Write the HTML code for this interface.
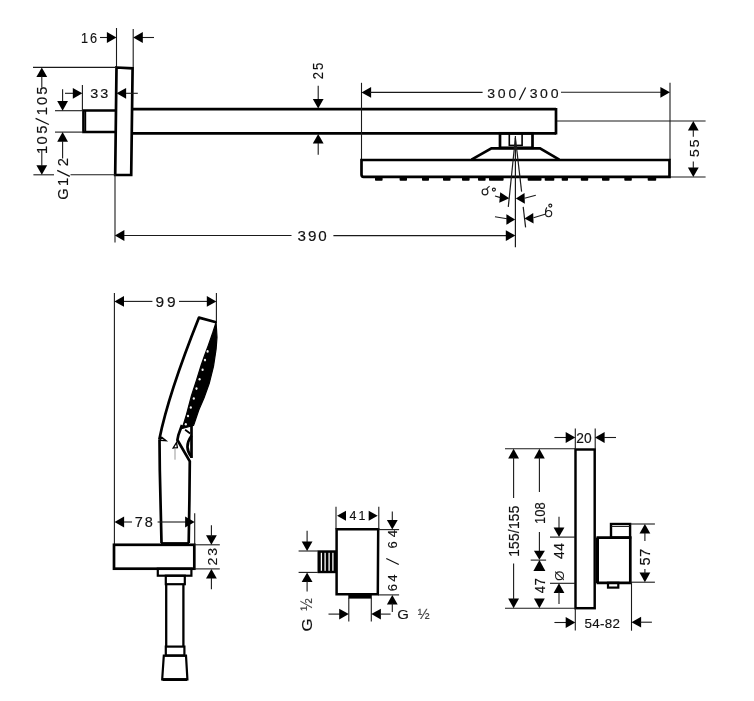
<!DOCTYPE html>
<html><head><meta charset="utf-8"><style>
html,body{margin:0;padding:0;background:#fff;}
svg{display:block;will-change:transform;}
</style></head><body>
<svg width="754" height="701" viewBox="0 0 754 701">
<rect width="754" height="701" fill="#fff"/>
<line x1="116.5" y1="28" x2="116.5" y2="67" stroke="#1a1a1a" stroke-width="1.1"/>
<line x1="133.2" y1="29" x2="133.2" y2="67" stroke="#1a1a1a" stroke-width="1.1"/>
<line x1="100" y1="37.5" x2="108" y2="37.5" stroke="#1a1a1a" stroke-width="1.1"/>
<polygon points="116.50,37.50 106.90,42.90 106.90,32.10" fill="#000"/>
<line x1="142" y1="37.5" x2="154" y2="37.5" stroke="#1a1a1a" stroke-width="1.1"/>
<polygon points="133.20,37.50 142.80,32.10 142.80,42.90" fill="#000"/>
<text transform="translate(80.90 42.80) scale(0.919 1)" x="0" y="0" font-family="Liberation Sans" font-size="13.80" fill="#111" stroke="#111" stroke-width="0.15" textLength="17.53" lengthAdjust="spacing">16</text>
<polygon points="116.5,67.5 132.6,68.3 131.2,175 115.2,175" fill="none" stroke="#000" stroke-width="2.7" stroke-linejoin="miter"/>
<line x1="33" y1="67.4" x2="116.5" y2="67.4" stroke="#1a1a1a" stroke-width="1.1"/>
<line x1="33.4" y1="174.8" x2="54" y2="174.8" stroke="#1a1a1a" stroke-width="1.1"/>
<line x1="70.5" y1="174.8" x2="115.5" y2="174.8" stroke="#1a1a1a" stroke-width="1.1"/>
<polygon points="41.80,67.40 47.20,77.00 36.40,77.00" fill="#000"/>
<line x1="41.8" y1="76" x2="41.8" y2="87.4" stroke="#1a1a1a" stroke-width="1.1"/>
<polygon points="41.80,174.80 36.40,165.20 47.20,165.20" fill="#000"/>
<line x1="41.8" y1="150" x2="41.8" y2="166" stroke="#1a1a1a" stroke-width="1.1"/>
<text transform="translate(47.00 150.00) rotate(-90) scale(1.05 1)" x="0" y="0" text-anchor="middle" font-family="Liberation Sans" font-size="14.0" fill="#111" stroke="#111" stroke-width="0.15">1</text>
<text transform="translate(47.00 140.50) rotate(-90) scale(1.05 1)" x="0" y="0" text-anchor="middle" font-family="Liberation Sans" font-size="14.0" fill="#111" stroke="#111" stroke-width="0.15">0</text>
<text transform="translate(47.00 129.70) rotate(-90) scale(1.05 1)" x="0" y="0" text-anchor="middle" font-family="Liberation Sans" font-size="14.0" fill="#111" stroke="#111" stroke-width="0.15">5</text>
<text transform="translate(47.00 111.20) rotate(-90) scale(1.05 1)" x="0" y="0" text-anchor="middle" font-family="Liberation Sans" font-size="14.0" fill="#111" stroke="#111" stroke-width="0.15">1</text>
<text transform="translate(47.00 101.00) rotate(-90) scale(1.05 1)" x="0" y="0" text-anchor="middle" font-family="Liberation Sans" font-size="14.0" fill="#111" stroke="#111" stroke-width="0.15">0</text>
<text transform="translate(47.00 90.70) rotate(-90) scale(1.05 1)" x="0" y="0" text-anchor="middle" font-family="Liberation Sans" font-size="14.0" fill="#111" stroke="#111" stroke-width="0.15">5</text>
<line x1="35.6" y1="118.4" x2="48.9" y2="124.5" stroke="#111" stroke-width="1.25"/>
<polyline points="116,110.5 83.5,110.5 83.5,132 116,132" fill="none" stroke="#000" stroke-width="2.7" stroke-linejoin="miter"/>
<line x1="85.6" y1="111" x2="85.6" y2="131.5" stroke="#000" stroke-width="1.2"/>
<line x1="55" y1="110.7" x2="83" y2="110.7" stroke="#1a1a1a" stroke-width="1.1"/>
<line x1="55" y1="132.1" x2="83" y2="132.1" stroke="#1a1a1a" stroke-width="1.1"/>
<line x1="82.4" y1="85" x2="82.4" y2="110.5" stroke="#1a1a1a" stroke-width="1.1"/>
<line x1="65" y1="93.3" x2="74" y2="93.3" stroke="#1a1a1a" stroke-width="1.1"/>
<polygon points="82.40,93.30 72.80,98.70 72.80,87.90" fill="#000"/>
<polygon points="116.50,93.30 126.10,87.90 126.10,98.70" fill="#000"/>
<line x1="126" y1="93.3" x2="137.8" y2="93.3" stroke="#1a1a1a" stroke-width="1.1"/>
<text transform="translate(90.20 97.80) scale(1.100 1)" x="0" y="0" font-family="Liberation Sans" font-size="13.10" fill="#111" stroke="#111" stroke-width="0.15" textLength="16.45" lengthAdjust="spacing">33</text>
<line x1="62.6" y1="89.3" x2="62.6" y2="102" stroke="#1a1a1a" stroke-width="1.1"/>
<polygon points="62.60,110.70 57.20,101.10 68.00,101.10" fill="#000"/>
<polygon points="62.60,132.10 68.00,141.70 57.20,141.70" fill="#000"/>
<line x1="62.6" y1="141" x2="62.6" y2="158.6" stroke="#1a1a1a" stroke-width="1.1"/>
<text transform="translate(68.20 194.00) rotate(-90) scale(1.05 1)" x="0" y="0" text-anchor="middle" font-family="Liberation Sans" font-size="14.0" fill="#111" stroke="#111" stroke-width="0.15">G</text>
<text transform="translate(68.20 182.00) rotate(-90) scale(1.05 1)" x="0" y="0" text-anchor="middle" font-family="Liberation Sans" font-size="14.0" fill="#111" stroke="#111" stroke-width="0.15">1</text>
<text transform="translate(68.20 162.10) rotate(-90) scale(1.05 1)" x="0" y="0" text-anchor="middle" font-family="Liberation Sans" font-size="14.0" fill="#111" stroke="#111" stroke-width="0.15">2</text>
<line x1="57.2" y1="170.4" x2="69.8" y2="176.4" stroke="#111" stroke-width="1.25"/>
<line x1="115" y1="175" x2="115" y2="242.4" stroke="#1a1a1a" stroke-width="1.1"/>
<line x1="132.5" y1="109.2" x2="556" y2="109.2" stroke="#000" stroke-width="2.7"/>
<line x1="132.0" y1="133.3" x2="556" y2="133.3" stroke="#000" stroke-width="2.7"/>
<line x1="556" y1="108.0" x2="556" y2="134.5" stroke="#000" stroke-width="2.7"/>
<line x1="318.2" y1="85.7" x2="318.2" y2="100" stroke="#1a1a1a" stroke-width="1.1"/>
<polygon points="318.20,108.50 312.80,98.90 323.60,98.90" fill="#000"/>
<polygon points="318.20,134.00 323.60,143.60 312.80,143.60" fill="#000"/>
<line x1="318.2" y1="143" x2="318.2" y2="154.8" stroke="#1a1a1a" stroke-width="1.1"/>
<text transform="translate(323.30 79.20) rotate(-90) scale(0.917 1)" x="0" y="0" font-family="Liberation Sans" font-size="14.23" fill="#111" stroke="#111" stroke-width="0.15" textLength="18.00" lengthAdjust="spacing">25</text>
<line x1="361.5" y1="82.8" x2="361.5" y2="160" stroke="#1a1a1a" stroke-width="1.1"/>
<line x1="670" y1="82.8" x2="670" y2="160" stroke="#1a1a1a" stroke-width="1.1"/>
<polygon points="361.50,92.40 371.10,87.00 371.10,97.80" fill="#000"/>
<line x1="370" y1="92.4" x2="482.6" y2="92.4" stroke="#1a1a1a" stroke-width="1.1"/>
<line x1="561" y1="92.3" x2="662" y2="92.3" stroke="#1a1a1a" stroke-width="1.1"/>
<polygon points="670.00,92.30 660.40,97.70 660.40,86.90" fill="#000"/>
<text transform="translate(491.10 98.00) scale(1.05 1)" x="0" y="0" text-anchor="middle" font-family="Liberation Sans" font-size="13.4" fill="#111" stroke="#111" stroke-width="0.15">3</text>
<text transform="translate(501.60 98.00) scale(1.05 1)" x="0" y="0" text-anchor="middle" font-family="Liberation Sans" font-size="13.4" fill="#111" stroke="#111" stroke-width="0.15">0</text>
<text transform="translate(512.30 98.00) scale(1.05 1)" x="0" y="0" text-anchor="middle" font-family="Liberation Sans" font-size="13.4" fill="#111" stroke="#111" stroke-width="0.15">0</text>
<text transform="translate(533.60 98.00) scale(1.05 1)" x="0" y="0" text-anchor="middle" font-family="Liberation Sans" font-size="13.4" fill="#111" stroke="#111" stroke-width="0.15">3</text>
<text transform="translate(544.00 98.00) scale(1.05 1)" x="0" y="0" text-anchor="middle" font-family="Liberation Sans" font-size="13.4" fill="#111" stroke="#111" stroke-width="0.15">0</text>
<text transform="translate(554.60 98.00) scale(1.05 1)" x="0" y="0" text-anchor="middle" font-family="Liberation Sans" font-size="13.4" fill="#111" stroke="#111" stroke-width="0.15">0</text>
<line x1="519.4" y1="100.0" x2="525.6" y2="87.5" stroke="#111" stroke-width="1.25"/>
<line x1="557" y1="121" x2="705.6" y2="121" stroke="#1a1a1a" stroke-width="1.1"/>
<line x1="670" y1="177" x2="705.6" y2="177" stroke="#1a1a1a" stroke-width="1.1"/>
<polygon points="693.30,121.00 698.70,130.60 687.90,130.60" fill="#000"/>
<line x1="693.3" y1="130" x2="693.3" y2="136.8" stroke="#1a1a1a" stroke-width="1.1"/>
<polygon points="693.30,177.00 687.90,167.40 698.70,167.40" fill="#000"/>
<line x1="693.3" y1="161.6" x2="693.3" y2="168" stroke="#1a1a1a" stroke-width="1.1"/>
<text transform="translate(698.50 157.00) rotate(-90) scale(1.020 1)" x="0" y="0" font-family="Liberation Sans" font-size="13.66" fill="#111" stroke="#111" stroke-width="0.15" textLength="17.15" lengthAdjust="spacing">55</text>
<path d="M361.5,160 L669.5,160 L669.5,176.8 L363.5,176.8 Q361.5,176.8 361.5,174.5 Z" fill="none" stroke="#000" stroke-width="2.7" />
<polyline points="471.5,159.7 491.4,148.3 540,148.3 559.3,159.7" fill="none" stroke="#000" stroke-width="2.7" stroke-linejoin="miter"/>
<rect x="500" y="133.3" width="32.5" height="14.5" fill="none" stroke="#000" stroke-width="2.7"/>
<rect x="509.3" y="133.3" width="12.800000000000011" height="12.099999999999994" fill="none" stroke="#000" stroke-width="1.6"/>
<rect x="375" y="176.5" width="7.600000000000023" height="4.3" fill="#000" rx="0.8"/>
<rect x="399.6" y="176.5" width="7.399999999999977" height="4.3" fill="#000" rx="0.8"/>
<rect x="422" y="176.5" width="7" height="4.3" fill="#000" rx="0.8"/>
<rect x="443" y="176.5" width="7.5" height="4.3" fill="#000" rx="0.8"/>
<rect x="462" y="176.5" width="7.600000000000023" height="4.3" fill="#000" rx="0.8"/>
<rect x="478" y="176.5" width="7.600000000000023" height="4.3" fill="#000" rx="0.8"/>
<rect x="489" y="176.5" width="14.600000000000023" height="4.3" fill="#000" rx="0.8"/>
<rect x="527.7" y="176.5" width="13.799999999999955" height="4.3" fill="#000" rx="0.8"/>
<rect x="544.7" y="176.5" width="9.599999999999909" height="4.3" fill="#000" rx="0.8"/>
<rect x="561.7" y="176.5" width="6.2999999999999545" height="4.3" fill="#000" rx="0.8"/>
<rect x="580.8" y="176.5" width="7.400000000000091" height="4.3" fill="#000" rx="0.8"/>
<rect x="602" y="176.5" width="7.5" height="4.3" fill="#000" rx="0.8"/>
<rect x="624.3" y="176.5" width="7.5" height="4.3" fill="#000" rx="0.8"/>
<rect x="647.7" y="176.5" width="8.5" height="4.3" fill="#000" rx="0.8"/>
<line x1="515.4" y1="136" x2="515.4" y2="247.3" stroke="#1a1a1a" stroke-width="1.2"/>
<line x1="515.4" y1="137.8" x2="508.3" y2="206.9" stroke="#1a1a1a" stroke-width="1.2"/>
<line x1="515.4" y1="137.8" x2="521.6" y2="191.6" stroke="#1a1a1a" stroke-width="1.2"/>
<line x1="523.2" y1="206.9" x2="525.6" y2="227.4" stroke="#1a1a1a" stroke-width="1.2"/>
<polygon points="509.30,198.30 499.27,202.74 500.20,192.18" fill="#000"/>
<line x1="495" y1="196" x2="500.5" y2="197.6" stroke="#1a1a1a" stroke-width="1.1"/>
<polygon points="515.80,198.60 524.51,192.89 524.88,203.69" fill="#000"/>
<line x1="524.5" y1="198.3" x2="535.8" y2="195.3" stroke="#1a1a1a" stroke-width="1.1"/>
<polygon points="515.20,219.50 506.40,224.80 506.40,214.20" fill="#000"/>
<line x1="495" y1="216.8" x2="507" y2="218.8" stroke="#1a1a1a" stroke-width="1.1"/>
<polygon points="524.50,218.50 533.21,212.89 533.58,223.49" fill="#000"/>
<line x1="533.5" y1="217.8" x2="545" y2="214.2" stroke="#1a1a1a" stroke-width="1.1"/>
<g fill="none" stroke="#1a1a1a" stroke-width="1.15"><circle cx="485" cy="191.9" r="2.9"/><path d="M486.6,189.1 Q488,187 489.6,186.3"/><circle cx="493.9" cy="189.6" r="1.5"/><circle cx="548.6" cy="213.6" r="3.1"/><path d="M545.6,213.4 Q545.3,209.5 546.8,207.4"/><circle cx="550.3" cy="205.6" r="1.5"/></g>
<polygon points="114.80,235.50 124.40,230.10 124.40,240.90" fill="#000"/>
<line x1="124" y1="235.5" x2="291.5" y2="235.5" stroke="#1a1a1a" stroke-width="1.1"/>
<line x1="333.4" y1="235.6" x2="506" y2="235.6" stroke="#1a1a1a" stroke-width="1.1"/>
<polygon points="515.40,235.60 505.80,241.00 505.80,230.20" fill="#000"/>
<text transform="translate(297.50 241.10) scale(1.056 1)" x="0" y="0" font-family="Liberation Sans" font-size="14.37" fill="#111" stroke="#111" stroke-width="0.15" textLength="27.75" lengthAdjust="spacing">390</text>
<line x1="114.4" y1="293" x2="114.4" y2="545" stroke="#1a1a1a" stroke-width="1.1"/>
<line x1="216.4" y1="293" x2="216.4" y2="323" stroke="#1a1a1a" stroke-width="1.1"/>
<polygon points="114.40,301.40 124.00,296.00 124.00,306.80" fill="#000"/>
<line x1="124" y1="301.4" x2="152.4" y2="301.4" stroke="#1a1a1a" stroke-width="1.1"/>
<line x1="179" y1="301.4" x2="207" y2="301.4" stroke="#1a1a1a" stroke-width="1.1"/>
<polygon points="216.40,301.40 206.80,306.80 206.80,296.00" fill="#000"/>
<text transform="translate(155.50 307.00) scale(1.100 1)" x="0" y="0" font-family="Liberation Sans" font-size="14.08" fill="#111" stroke="#111" stroke-width="0.15" textLength="18.27" lengthAdjust="spacing">99</text>
<path d="M159.3,439.5 C167.3,399.5 183,357.6 199,317.6 L216.1,322.2" fill="none" stroke="#000" stroke-width="2.7" stroke-linejoin="round"/>
<path d="M216.1,322.2 L217,337.3 L216.1,349.2 L213.5,366.4 L209.2,383.5 L204,398 L198.8,410 L194.5,422.8 L193.5,425.5 L182.2,428.5 L186.5,414.3 L191.5,395.5 L196.5,380.1 L201.2,365 L204.4,355.9 L208.2,345.7 L212.7,332.8 Z" fill="#000" stroke="#000" stroke-width="1.2" stroke-linejoin="round"/>
<path d="M182,425 L178.4,435 L177.4,440 L189.8,461.4 L189.4,500 L188.7,543" fill="none" stroke="#000" stroke-width="2.7" />
<ellipse cx="207.60" cy="351.40" rx="1.1" ry="1.3" fill="#f2f2f2"/>
<ellipse cx="205.00" cy="360.10" rx="1.1" ry="1.3" fill="#f2f2f2"/>
<ellipse cx="202.60" cy="369.80" rx="1.1" ry="1.3" fill="#f2f2f2"/>
<ellipse cx="199.60" cy="379.20" rx="1.1" ry="1.3" fill="#f2f2f2"/>
<ellipse cx="196.50" cy="388.60" rx="1.1" ry="1.3" fill="#f2f2f2"/>
<ellipse cx="193.80" cy="398.50" rx="1.1" ry="1.3" fill="#f2f2f2"/>
<ellipse cx="190.80" cy="407.50" rx="1.1" ry="1.3" fill="#f2f2f2"/>
<ellipse cx="188.00" cy="416.00" rx="1.1" ry="1.3" fill="#f2f2f2"/>
<ellipse cx="185.80" cy="424.20" rx="1.1" ry="1.3" fill="#f2f2f2"/>
<path d="M159.5,439.5 L159.8,470 L161.5,543" fill="none" stroke="#000" stroke-width="2.7" />
<line x1="161" y1="543.6" x2="189" y2="543.6" stroke="#000" stroke-width="3"/>
<path d="M191.5,422.8 L191.5,458" fill="none" stroke="#000" stroke-width="2.7" />
<path d="M191.5,435.7 Q183.5,446.8 191.5,457" fill="none" stroke="#000" stroke-width="2.7" />
<path d="M185.1,429.7 L190.2,433.5" fill="none" stroke="#000" stroke-width="1.8" />
<polygon points="160,440.2 166,440.6 161.8,437.2" fill="#fff" stroke="#000" stroke-width="1.4" stroke-linejoin="miter"/>
<polygon points="173.1,448.1 176.5,442.5 177.4,447.7" fill="#fff" stroke="#000" stroke-width="1.3" stroke-linejoin="miter"/>
<line x1="175" y1="448" x2="175" y2="459.7" stroke="#999" stroke-width="1"/>
<line x1="194.7" y1="513.2" x2="194.7" y2="544" stroke="#1a1a1a" stroke-width="1.1"/>
<polygon points="114.50,522.00 124.10,516.60 124.10,527.40" fill="#000"/>
<line x1="124" y1="522" x2="132" y2="522" stroke="#1a1a1a" stroke-width="1.1"/>
<line x1="157.6" y1="522" x2="186" y2="522" stroke="#1a1a1a" stroke-width="1.1"/>
<polygon points="194.70,522.00 185.10,527.40 185.10,516.60" fill="#000"/>
<text transform="translate(134.80 527.10) scale(1.018 1)" x="0" y="0" font-family="Liberation Sans" font-size="14.23" fill="#111" stroke="#111" stroke-width="0.15" textLength="17.78" lengthAdjust="spacing">78</text>
<rect x="114" y="544.8" width="80.30000000000001" height="23.90000000000009" fill="none" stroke="#000" stroke-width="2.7"/>
<line x1="194.3" y1="544.8" x2="219.8" y2="544.8" stroke="#1a1a1a" stroke-width="1.1"/>
<line x1="194.3" y1="568.9" x2="219.8" y2="568.9" stroke="#1a1a1a" stroke-width="1.1"/>
<polygon points="211.40,544.80 206.00,535.20 216.80,535.20" fill="#000"/>
<line x1="211.4" y1="525.3" x2="211.4" y2="537" stroke="#1a1a1a" stroke-width="1.1"/>
<polygon points="211.40,568.90 216.80,578.50 206.00,578.50" fill="#000"/>
<line x1="211.4" y1="578" x2="211.4" y2="589.3" stroke="#1a1a1a" stroke-width="1.1"/>
<text transform="translate(216.70 565.50) rotate(-90) scale(1.027 1)" x="0" y="0" font-family="Liberation Sans" font-size="13.66" fill="#111" stroke="#111" stroke-width="0.15" textLength="17.14" lengthAdjust="spacing">23</text>
<rect x="157.8" y="568.7" width="33.599999999999994" height="7.0" fill="none" stroke="#000" stroke-width="2.2"/>
<rect x="165.8" y="575.7" width="19.0" height="8.5" fill="none" stroke="#000" stroke-width="2.2"/>
<line x1="166.2" y1="584" x2="166.2" y2="646.6" stroke="#000" stroke-width="2.3"/>
<line x1="183.4" y1="584" x2="183.4" y2="646.6" stroke="#000" stroke-width="2.3"/>
<rect x="165.8" y="646.6" width="18.599999999999994" height="9.0" fill="none" stroke="#000" stroke-width="2.2"/>
<path d="M163.8,655.6 L186,655.6 L187.4,679.3 L162.2,679.3 Z" fill="none" stroke="#000" stroke-width="2.2" />
<line x1="162.5" y1="679.6" x2="187.2" y2="679.6" stroke="#000" stroke-width="2.8"/>
<path d="M336.6,529.3 L378.2,529.3 L377.8,594.2 L336.6,594.2 Z" fill="none" stroke="#000" stroke-width="2.5" />
<line x1="336" y1="506.7" x2="336" y2="529.6" stroke="#1a1a1a" stroke-width="1.1"/>
<line x1="378.8" y1="506.7" x2="378.8" y2="529.6" stroke="#1a1a1a" stroke-width="1.1"/>
<polygon points="337.00,515.70 346.00,510.70 346.00,520.70" fill="#000"/>
<polygon points="377.70,515.70 368.70,520.70 368.70,510.70" fill="#000"/>
<text transform="translate(349.50 520.20) scale(1.001 1)" x="0" y="0" font-family="Liberation Sans" font-size="12.39" fill="#111" stroke="#111" stroke-width="0.15" textLength="15.78" lengthAdjust="spacing">41</text>
<rect x="317.5" y="550.3" width="19" height="22.9" fill="#000"/>
<rect x="320.75" y="552.8" width="1.3" height="18" fill="#fff"/>
<rect x="324.45000000000005" y="552.8" width="1.3" height="18" fill="#fff"/>
<rect x="328.45000000000005" y="552.8" width="1.3" height="18" fill="#fff"/>
<rect x="332.25" y="552.8" width="1.3" height="18" fill="#fff"/>
<line x1="298.6" y1="551" x2="317.8" y2="551" stroke="#1a1a1a" stroke-width="1.1"/>
<line x1="298.6" y1="572.4" x2="317.8" y2="572.4" stroke="#1a1a1a" stroke-width="1.1"/>
<line x1="307.1" y1="530.7" x2="307.1" y2="542" stroke="#1a1a1a" stroke-width="1.1"/>
<polygon points="307.10,551.00 301.70,541.40 312.50,541.40" fill="#000"/>
<polygon points="307.10,572.40 312.50,582.00 301.70,582.00" fill="#000"/>
<line x1="307.1" y1="581" x2="307.1" y2="591.6" stroke="#1a1a1a" stroke-width="1.1"/>
<text transform="translate(312.10 631.50) rotate(-90) scale(1.100 1)" x="0" y="0" font-family="Liberation Sans" font-size="15.29" fill="#111" stroke="#111" stroke-width="0.15" textLength="9.55" lengthAdjust="spacing">G</text>
<text transform="translate(312.10 610.80) rotate(-90) scale(0.950 1)" x="0" y="0" font-family="Liberation Sans" font-size="15.74" fill="#444" stroke="#444" stroke-width="0.15" textLength="11.79" lengthAdjust="spacing">½</text>
<line x1="378.8" y1="529.6" x2="399.1" y2="529.6" stroke="#1a1a1a" stroke-width="1.1"/>
<line x1="378.2" y1="594.9" x2="399.1" y2="594.9" stroke="#1a1a1a" stroke-width="1.1"/>
<line x1="392.3" y1="511.4" x2="392.3" y2="521" stroke="#1a1a1a" stroke-width="1.1"/>
<polygon points="392.30,529.60 386.90,520.00 397.70,520.00" fill="#000"/>
<polygon points="392.30,594.90 397.70,604.50 386.90,604.50" fill="#000"/>
<line x1="392.3" y1="603" x2="392.3" y2="612" stroke="#1a1a1a" stroke-width="1.1"/>
<text transform="translate(397.00 587.50) rotate(-90) scale(1.05 1)" x="0" y="0" text-anchor="middle" font-family="Liberation Sans" font-size="12.6" fill="#111" stroke="#111" stroke-width="0.15">6</text>
<text transform="translate(397.00 578.00) rotate(-90) scale(1.05 1)" x="0" y="0" text-anchor="middle" font-family="Liberation Sans" font-size="12.6" fill="#111" stroke="#111" stroke-width="0.15">4</text>
<text transform="translate(397.00 544.80) rotate(-90) scale(1.05 1)" x="0" y="0" text-anchor="middle" font-family="Liberation Sans" font-size="12.6" fill="#111" stroke="#111" stroke-width="0.15">6</text>
<text transform="translate(397.00 533.50) rotate(-90) scale(1.05 1)" x="0" y="0" text-anchor="middle" font-family="Liberation Sans" font-size="12.6" fill="#111" stroke="#111" stroke-width="0.15">4</text>
<line x1="386.3" y1="558.5" x2="398.8" y2="564.5" stroke="#111" stroke-width="1.25"/>
<rect x="348.3" y="594" width="23.5" height="4.6" fill="#000"/>
<line x1="348.8" y1="598" x2="348.8" y2="621.6" stroke="#1a1a1a" stroke-width="1.1"/>
<line x1="371.3" y1="598" x2="371.3" y2="621.6" stroke="#1a1a1a" stroke-width="1.1"/>
<line x1="328.5" y1="614.1" x2="341" y2="614.1" stroke="#1a1a1a" stroke-width="1.1"/>
<polygon points="348.80,614.10 339.20,619.50 339.20,608.70" fill="#000"/>
<polygon points="371.30,614.10 380.90,608.70 380.90,619.50" fill="#000"/>
<line x1="380" y1="614.1" x2="390.6" y2="614.1" stroke="#1a1a1a" stroke-width="1.1"/>
<text transform="translate(397.30 618.70) scale(1.100 1)" x="0" y="0" font-family="Liberation Sans" font-size="13.57" fill="#111" stroke="#111" stroke-width="0.15" textLength="9.73" lengthAdjust="spacing">G</text>
<text transform="translate(417.70 619.10) scale(0.950 1)" x="0" y="0" font-family="Liberation Sans" font-size="15.00" fill="#444" stroke="#444" stroke-width="0.15" textLength="12.11" lengthAdjust="spacing">½</text>
<rect x="575.5" y="449.5" width="19.200000000000045" height="158.70000000000005" fill="none" stroke="#000" stroke-width="2.45"/>
<line x1="575.3" y1="428.6" x2="575.3" y2="449" stroke="#1a1a1a" stroke-width="1.1"/>
<line x1="595.2" y1="428.6" x2="595.2" y2="449" stroke="#1a1a1a" stroke-width="1.1"/>
<line x1="554.4" y1="437.5" x2="566" y2="437.5" stroke="#1a1a1a" stroke-width="1.1"/>
<polygon points="575.30,437.50 565.70,442.90 565.70,432.10" fill="#000"/>
<polygon points="595.00,437.50 604.60,432.10 604.60,442.90" fill="#000"/>
<line x1="604" y1="437.5" x2="616" y2="437.5" stroke="#1a1a1a" stroke-width="1.1"/>
<text transform="translate(576.20 442.80) scale(1.000 1)" x="0" y="0" font-family="Liberation Sans" font-size="13.80" fill="#111" stroke="#111" stroke-width="0.15" textLength="15.60" lengthAdjust="spacing">20</text>
<line x1="505" y1="448.8" x2="575.3" y2="448.8" stroke="#1a1a1a" stroke-width="1.1"/>
<line x1="505" y1="608.2" x2="575.3" y2="608.2" stroke="#1a1a1a" stroke-width="1.1"/>
<polygon points="513.60,448.80 519.00,458.40 508.20,458.40" fill="#000"/>
<line x1="513.6" y1="457" x2="513.6" y2="497.9" stroke="#1a1a1a" stroke-width="1.1"/>
<polygon points="513.60,608.20 508.20,598.60 519.00,598.60" fill="#000"/>
<line x1="513.6" y1="563.6" x2="513.6" y2="600" stroke="#1a1a1a" stroke-width="1.1"/>
<text transform="translate(518.80 556.80) rotate(-90) scale(0.992 1)" x="0" y="0" font-family="Liberation Sans" font-size="13.94" fill="#111" stroke="#111" stroke-width="0.15" textLength="51.60" lengthAdjust="spacing">155/155</text>
<polygon points="539.40,448.80 544.80,458.40 534.00,458.40" fill="#000"/>
<line x1="539.4" y1="457" x2="539.4" y2="491.9" stroke="#1a1a1a" stroke-width="1.1"/>
<text transform="translate(544.80 524.10) rotate(-90) scale(0.863 1)" x="0" y="0" font-family="Liberation Sans" font-size="14.93" fill="#111" stroke="#111" stroke-width="0.15" textLength="25.37" lengthAdjust="spacing">108</text>
<line x1="539.4" y1="532" x2="539.4" y2="552" stroke="#1a1a1a" stroke-width="1.1"/>
<polygon points="539.40,559.80 533.90,550.80 544.90,550.80" fill="#000"/>
<line x1="530.7" y1="560.1" x2="546.1" y2="560.1" stroke="#1a1a1a" stroke-width="1.1"/>
<polygon points="539.40,560.10 545.40,571.10 533.40,571.10" fill="#000"/>
<text transform="translate(544.80 593.20) rotate(-90) scale(0.891 1)" x="0" y="0" font-family="Liberation Sans" font-size="14.93" fill="#111" stroke="#111" stroke-width="0.15" textLength="16.83" lengthAdjust="spacing">47</text>
<polygon points="539.40,608.20 534.00,598.60 544.80,598.60" fill="#000"/>
<line x1="550" y1="537.1" x2="575.3" y2="537.1" stroke="#1a1a1a" stroke-width="1.1"/>
<line x1="550" y1="583.3" x2="575.3" y2="583.3" stroke="#1a1a1a" stroke-width="1.1"/>
<line x1="559" y1="516.7" x2="559" y2="529" stroke="#1a1a1a" stroke-width="1.1"/>
<polygon points="559.00,537.10 553.60,527.50 564.40,527.50" fill="#000"/>
<polygon points="559.00,583.30 564.40,592.90 553.60,592.90" fill="#000"/>
<line x1="559" y1="592" x2="559" y2="603.9" stroke="#1a1a1a" stroke-width="1.1"/>
<text transform="translate(564.20 559.00) rotate(-90) scale(1.000 1)" x="0" y="0" font-family="Liberation Sans" font-size="13.80" fill="#111" stroke="#111" stroke-width="0.15" textLength="15.90" lengthAdjust="spacing">44</text>
<text x="564.2" y="581" font-family="Liberation Sans" font-size="13.5" letter-spacing="0" text-anchor="start" fill="#1a1a1a" font-weight="normal" transform="rotate(-90 564.2 581)">Ø</text>
<path d="M596.5,537.6 L630.3,537.6 L630.3,582.8 L596.5,582.8" fill="none" stroke="#000" stroke-width="2.7" />
<line x1="597.5" y1="537.6" x2="597.5" y2="583" stroke="#000" stroke-width="3"/>
<rect x="611" y="524" width="19.100000000000023" height="13.600000000000023" fill="none" stroke="#000" stroke-width="2.4"/>
<line x1="611.5" y1="526.5" x2="629.5" y2="526.5" stroke="#222" stroke-width="1.0"/>
<rect x="608" y="582.8" width="10.299999999999955" height="4.800000000000068" fill="none" stroke="#000" stroke-width="2.2"/>
<line x1="630.3" y1="524" x2="654.9" y2="524" stroke="#1a1a1a" stroke-width="1.1"/>
<line x1="630.3" y1="582.2" x2="654.9" y2="582.2" stroke="#1a1a1a" stroke-width="1.1"/>
<polygon points="644.90,524.00 650.30,533.60 639.50,533.60" fill="#000"/>
<line x1="644.9" y1="533" x2="644.9" y2="540.9" stroke="#1a1a1a" stroke-width="1.1"/>
<polygon points="644.90,582.20 639.50,572.60 650.30,572.60" fill="#000"/>
<line x1="644.9" y1="569" x2="644.9" y2="574" stroke="#1a1a1a" stroke-width="1.1"/>
<text transform="translate(650.30 565.40) rotate(-90) scale(1.000 1)" x="0" y="0" font-family="Liberation Sans" font-size="14.65" fill="#111" stroke="#111" stroke-width="0.15" textLength="16.50" lengthAdjust="spacing">57</text>
<line x1="575.3" y1="608.2" x2="575.3" y2="630.4" stroke="#1a1a1a" stroke-width="1.1"/>
<line x1="631.5" y1="582.2" x2="631.5" y2="630.7" stroke="#1a1a1a" stroke-width="1.1"/>
<line x1="554.4" y1="622.5" x2="566" y2="622.5" stroke="#1a1a1a" stroke-width="1.1"/>
<polygon points="575.30,622.50 565.70,627.90 565.70,617.10" fill="#000"/>
<polygon points="631.50,622.20 641.10,616.80 641.10,627.60" fill="#000"/>
<line x1="640" y1="622.2" x2="651.9" y2="622.2" stroke="#1a1a1a" stroke-width="1.1"/>
<text transform="translate(584.50 627.70) scale(1.000 1)" x="0" y="0" font-family="Liberation Sans" font-size="13.38" fill="#111" stroke="#111" stroke-width="0.15" textLength="35.40" lengthAdjust="spacing">54-82</text>
</svg>
</body></html>
